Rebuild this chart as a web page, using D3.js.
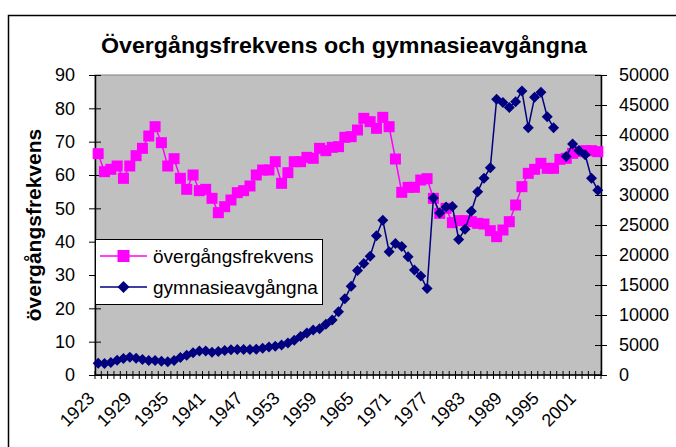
<!DOCTYPE html>
<html><head><meta charset="utf-8">
<script src="https://cdn.jsdelivr.net/npm/d3@7"></script>
<style>
body{margin:0;background:#fff}
svg{display:block}
text{font-family:"Liberation Sans",Arial,sans-serif;fill:#000}
</style>
</head><body>
<svg id="c" width="676" height="447"></svg>
<script>
const years=[1923,1924,1925,1926,1927,1928,1929,1930,1931,1932,1933,1934,1935,1936,1937,1938,1939,1940,
1941,1942,1943,1944,1945,1946,1947,1948,1949,1950,1951,1952,1953,1954,1955,1956,1957,1958,1959,1960,
1961,1962,1963,1964,1965,1966,1967,1968,1969,1970,1971,1972,1973,1974,1975,1976,1977,1978,1979,1980,
1981,1982,1983,1984,1985,1986,1987,1988,1989,1990,1991,1992,1993,1994,1995,1996,1997,1998,1999,2000,2001,2002];

const overgang=[66.4,61.0,61.7,62.7,59.0,62.7,65.8,68.0,71.7,74.5,69.7,62.7,64.9,59.0,55.7,60.0,55.3,55.7,
53.0,48.7,50.5,52.5,54.7,55.3,56.7,60.0,61.5,61.5,64.0,57.5,60.7,64.0,64.0,65.3,65.0,68.0,67.3,68.3,
68.5,71.3,71.5,73.5,77.0,76.0,74.0,77.3,74.5,64.8,54.8,56.3,56.3,58.5,58.9,53.0,48.5,50.0,45.7,46.3,
46.3,46.0,45.5,45.3,43.3,41.5,43.5,46.0,51.0,56.5,60.5,61.7,63.5,62.0,62.0,64.7,65.0,66.5,67.0,67.3,67.3,67.0];

const avgangna=[1950,1900,2100,2450,2750,2950,2800,2600,2400,2400,2300,2200,2400,2900,3300,3700,4000,4000,
3800,3900,4100,4200,4250,4250,4250,4300,4450,4650,4800,5000,5350,5800,6400,7000,7500,7700,8450,9170,
10550,12700,14800,17400,18600,19800,23200,25800,20550,21900,21400,19700,17500,16500,14400,29500,27000,28000,28100,22600,
24300,27300,30550,32800,34550,45950,45400,44600,45550,47330,41220,46280,47110,43050,41220,null,36400,38500,37400,36700,32800,30800];

const leftTicks=[0,10,20,30,40,50,60,70,80,90];
const rightTicks=[0,5000,10000,15000,20000,25000,30000,35000,40000,45000,50000];
const xLabelYears=[1923,1929,1935,1941,1947,1953,1959,1965,1971,1977,1983,1989,1995,2001];

const titleText="Övergångsfrekvens och gymnasieavgångna";
const yTitle="övergångsfrekvens";
const seriesNames=["övergångsfrekvens","gymnasieavgångna"];
const pink="#FF00FF", navy="#000080";

const svg=d3.select("#c");
const L=95,R=601,T=75,B=375;

// chart border
svg.append("rect").attr("x",8.5).attr("y",15.5).attr("width",720).attr("height",500)
  .attr("fill","#fff").attr("stroke","#000").attr("stroke-width",1.5);

const x=d3.scaleBand().domain(years).range([L,R]);
// label placement scale (Excel packs rotated labels slightly tighter)
const xl=d3.scaleBand().domain(years).range([L,R-12]);
const y1=d3.scaleLinear().domain([0,90]).range([B,T]);
const y2=d3.scaleLinear().domain([0,50000]).range([B,T]);

// plot area
svg.append("rect").attr("x",L).attr("y",T).attr("width",R-L).attr("height",B-T)
  .attr("fill","#C0C0C0").attr("stroke","#808080").attr("stroke-width",1);

// title
svg.append("text").attr("x",344).attr("y",53).attr("text-anchor","middle")
  .attr("font-size",22).attr("font-weight","bold")
  .attr("textLength",486).attr("lengthAdjust","spacingAndGlyphs").text(titleText);

// y title
svg.append("text").attr("transform",`translate(41,${(T+B)/2}) rotate(-90)`)
  .attr("text-anchor","middle").attr("font-size",21).attr("font-weight","bold").text(yTitle);

// left axis
const gl=svg.append("g").attr("transform",`translate(${L},0)`)
  .call(d3.axisLeft(y1).tickValues(leftTicks).tickSizeOuter(0).tickPadding(14));
gl.select(".domain").attr("stroke","#000").attr("stroke-width",1.5);
gl.selectAll(".tick line").attr("x1",-6).attr("x2",6).attr("stroke","#000");
gl.selectAll(".tick text").attr("font-size",18).attr("font-family","Liberation Sans, Arial, sans-serif");

// right axis
const gr=svg.append("g").attr("transform",`translate(${R},0)`)
  .call(d3.axisRight(y2).tickValues(rightTicks).tickFormat(d3.format("d")).tickSizeOuter(0).tickPadding(12));
gr.select(".domain").attr("stroke","#000").attr("stroke-width",1.5);
gr.selectAll(".tick line").attr("x1",-6).attr("x2",6).attr("stroke","#000");
gr.selectAll(".tick text").attr("font-size",18).attr("font-family","Liberation Sans, Arial, sans-serif");

// bottom axis: labels
const gb=svg.append("g").attr("transform",`translate(0,${B})`)
  .call(d3.axisBottom(xl).tickValues(xLabelYears).tickSize(0).tickFormat(d3.format("d")));
gb.select(".domain").remove();
gb.selectAll(".tick text").attr("font-size",18).attr("font-family","Liberation Sans, Arial, sans-serif")
  .attr("text-anchor","end").attr("y",0).attr("dy","0.35em")
  .attr("transform","translate(-7,20) rotate(-45)");
svg.append("line").attr("x1",L).attr("x2",R).attr("y1",B).attr("y2",B).attr("stroke","#000").attr("stroke-width",1.5);
// category boundary ticks
const bounds=years.map(d=>x(d)).concat([x(years[years.length-1])+x.bandwidth()]);
svg.append("g").selectAll("line").data(bounds).join("line")
  .attr("x1",d=>d).attr("x2",d=>d).attr("y1",B-4).attr("y2",B+4)
  .attr("stroke","#000").attr("stroke-width",1);

const cx=d=>x(d)+x.bandwidth()/2;

// pink series
const pts1=years.map((d,i)=>({year:d,v:overgang[i]}));
svg.append("path").datum(pts1)
  .attr("d",d3.line().defined(d=>d.v!=null).x(d=>cx(d.year)).y(d=>y1(d.v)))
  .attr("fill","none").attr("stroke",pink).attr("stroke-width",1.5);
svg.append("g").selectAll("rect").data(pts1.filter(d=>d.v!=null)).join("rect")
  .attr("x",d=>cx(d.year)-5.5).attr("y",d=>y1(d.v)-5.5).attr("width",11).attr("height",11)
  .attr("fill",pink);

// navy series
const pts2=years.map((d,i)=>({year:d,v:avgangna[i]}));
svg.append("path").datum(pts2)
  .attr("d",d3.line().defined(d=>d.v!=null).x(d=>cx(d.year)).y(d=>y2(d.v)))
  .attr("fill","none").attr("stroke",navy).attr("stroke-width",1.5);
const dia=s=>`M0,${-s}L${s},0L0,${s}L${-s},0Z`;
svg.append("g").selectAll("path").data(pts2.filter(d=>d.v!=null)).join("path")
  .attr("transform",d=>`translate(${cx(d.year)},${y2(d.v)})`).attr("d",dia(5.5))
  .attr("fill",navy);

// legend
const lg=svg.append("g");
lg.append("rect").attr("x",95.5).attr("y",239.5).attr("width",227).attr("height",65)
  .attr("fill","#fff").attr("stroke","#000").attr("stroke-width",1);
const rows=[{n:seriesNames[0],c:pink,y:256,m:"sq"},{n:seriesNames[1],c:navy,y:287,m:"dia"}];
rows.forEach(r=>{
  lg.append("line").attr("x1",100).attr("x2",147).attr("y1",r.y).attr("y2",r.y).attr("stroke",r.c).attr("stroke-width",1.5);
  if(r.m==="sq") lg.append("rect").attr("x",117.5).attr("y",r.y-6).attr("width",12).attr("height",12).attr("fill",r.c);
  else lg.append("path").attr("transform",`translate(123.5,${r.y})`).attr("d",dia(6)).attr("fill",r.c);
  lg.append("text").attr("x",153).attr("y",r.y).attr("dy","0.35em").attr("font-size",19).text(r.n);
});
</script>
</body></html>
